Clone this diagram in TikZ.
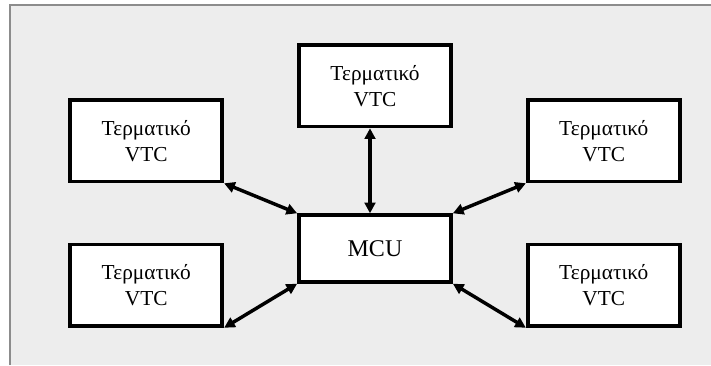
\documentclass[tikz,border=0pt]{standalone}
\usepackage{fontspec}
\setmainfont{Liberation Serif}
\usetikzlibrary{positioning,arrows.meta}
\definecolor{panel}{HTML}{EDEDED}
\definecolor{frameline}{HTML}{8C8C8C}
\tikzset{
  terminal/.style={rectangle, draw=black, line width=2.8pt, fill=white, minimum width=114pt, minimum height=61pt, align=center, font=\fontsize{16}{19.5}\selectfont},
  hub/.style={terminal, minimum height=50pt, font=\fontsize{18}{20}\selectfont},
  link/.style={line width=2.6pt, {Triangle[length=8pt,width=8pt]}-{Triangle[length=8pt,width=8pt]}}
}

\begin{document}
\begin{tikzpicture}[x=0.75pt, y=0.75pt, node distance=63.75pt]
\useasboundingbox (0,0) rectangle (711,365);
% grey panel
\fill[panel] (10,0) rectangle (711,360);
\draw[frameline, line width=1.1pt] (10,0) -- (10,360) -- (711,360);
\node (mcu) [hub] at (375,116.5) {MCU};
\node (vtc1) [terminal, above=of mcu] {Τερματικό\\VTC};
\node (vtc2) [terminal, above left=22.5pt and 54.75pt of mcu] {Τερματικό\\VTC};
\node (vtc3) [terminal, above right=22.5pt and 54.75pt of mcu] {Τερματικό\\VTC};
\node (vtc4) [terminal, below left=-30.75pt and 54.75pt of mcu] {Τερματικό\\VTC};
\node (vtc5) [terminal, below right=-30.75pt and 54.75pt of mcu] {Τερματικό\\VTC};
\draw [link] ([xshift=-3.75pt]vtc1.south) -- ([xshift=-3.75pt]mcu.north);
\draw [link] (vtc2.south east) -- (mcu.north west);
\draw [link] (vtc3.south west) -- (mcu.north east);
\draw [link] (mcu.south west) -- (vtc4.south east);
\draw [link] (mcu.south east) -- (vtc5.south west);
\end{tikzpicture}
\end{document}
